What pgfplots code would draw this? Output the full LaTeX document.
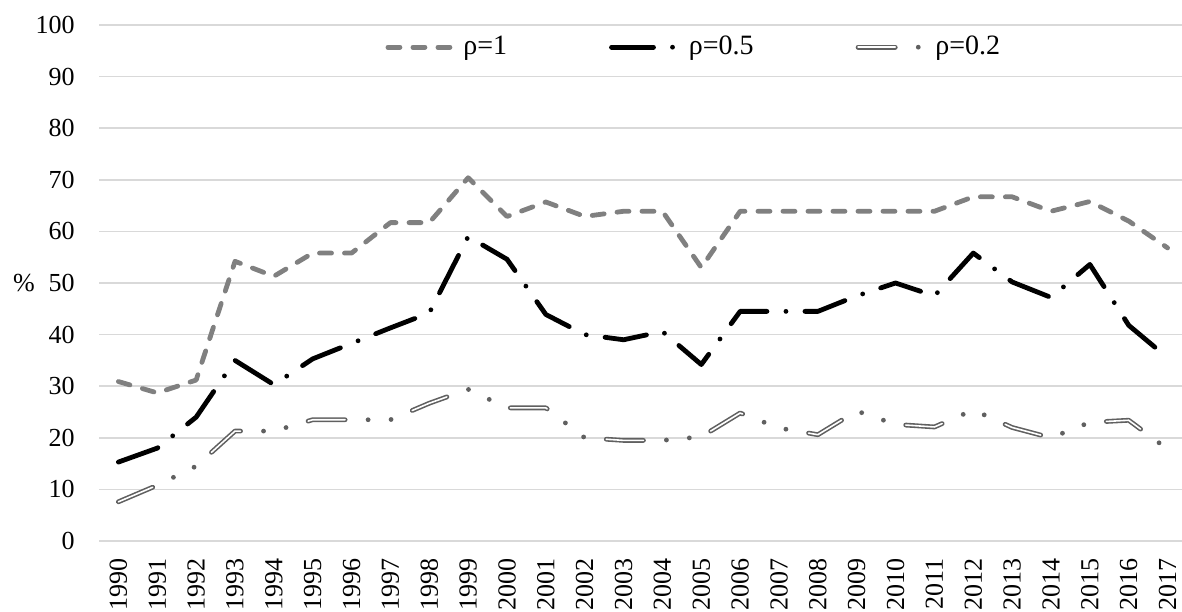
\documentclass[border=0pt]{standalone}
\usepackage{fontspec}
\setmainfont{Liberation Serif}
\usepackage{pgfplots}
\pgfplotsset{compat=1.18}
\definecolor{rhoone}{RGB}{128,128,128}
\definecolor{rhotwo}{RGB}{96,96,96}
\definecolor{gridc}{RGB}{217,217,217}

% 1 px of the reference = 0.5pt
\pgfplotstableread{
yr  r1    r05   r02
0   30.9  15.3  7.6
1   28.7  18.0  10.8
2   31.2  24.0  14.5
3   54.2  35.0  21.3
4   51.3  30.3  21.3
5   55.8  35.3  23.5
6   55.8  38.3  23.5
7   61.7  41.3  23.5
8   61.7  44.2  26.7
9   70.4  59.0  29.4
10  62.9  54.6  25.8
11  65.7  43.9  25.8
12  62.9  40.0  20.0
13  63.9  39.0  19.5
14  63.9  40.6  19.5
15  53.0  34.2  20.2
16  63.9  44.5  24.8
17  63.9  44.5  21.9
18  63.9  44.5  20.6
19  63.9  47.5  25.2
20  63.9  50.0  22.6
21  63.9  47.5  22.1
22  66.7  55.8  25.4
23  66.7  50.2  22.0
24  63.9  47.2  20.0
25  65.8  53.6  23.0
26  62.0  41.8  23.4
27  56.8  35.5  17.8
}\datatable

\tikzset{
  s1/.style={rhoone, line width=2.4pt, line cap=round, line join=round, dash pattern=on 6pt off 6.5pt},
  s05/.style={black, line width=2.4pt, line cap=round, line join=round, dash pattern=on 21pt off 9.5pt on 0pt off 9.5pt},
  s02/.style={rhotwo, line width=2.4pt, line cap=round, line join=round, dash pattern=on 18.6pt off 11.5pt on 0pt off 11.5pt on 0pt off 11.5pt},
  s02in/.style={white, line width=0.8pt, line cap=round, line join=round, dash pattern=on 18.6pt off 34.5pt},
}

\begin{document}
\begin{tikzpicture}[font=\fontsize{13pt}{15pt}\selectfont]
\begin{axis}[
  scale only axis,
  width=544pt, height=258pt,
  xmin=-0.5, xmax=27.5,
  ymin=0, ymax=100,
  xtick={0,...,27},
  xticklabels={1990,1991,1992,1993,1994,1995,1996,1997,1998,1999,2000,2001,2002,2003,2004,2005,2006,2007,2008,2009,2010,2011,2012,2013,2014,2015,2016,2017},
  ytick={0,10,...,100},
  major tick length=0pt,
  axis line style={draw=none},
  ymajorgrids,
  major grid style={gridc, line width=0.85pt},
  /pgf/number format/assume math mode=true,
  tick label style={font=\fontsize{13pt}{15pt}\selectfont},
  xticklabel style={rotate=90, anchor=east, inner xsep=8.5pt, inner ysep=0pt},
  yticklabel style={anchor=east, inner xsep=12pt},
  ylabel={\%},
  ylabel style={rotate=-90, at={(axis description cs:0,0.5)}, anchor=center, xshift=-37.5pt, font=\fontsize{13pt}{15pt}\selectfont},
  legend style={draw=none, fill=none, legend columns=-1,
    at={(axis description cs:0.263,0.957)}, anchor=west,
    inner sep=0pt, nodes={inner sep=0pt},
    font=\fontsize{14pt}{16pt}\selectfont,
    /tikz/every odd column/.append style={column sep=5.5pt},
    /tikz/every even column/.append style={column sep=51pt}},
]
\addplot[s1, legend image code/.code={\draw[s1] (0pt,0pt) -- (31pt,0pt);}]
  table[x=yr, y=r1] {\datatable};
\addlegendentry{ρ=1}
\addplot[s05, legend image code/.code={\draw[s05] (0pt,0pt) -- (32pt,0pt);}]
  table[x=yr, y=r05] {\datatable};
\addlegendentry{ρ=0.5}
\addplot[s02, legend image code/.code={\draw[s02] (0pt,0pt) -- (32pt,0pt); \draw[s02in] (0pt,0pt) -- (32pt,0pt);}]
  table[x=yr, y=r02] {\datatable};
\addlegendentry{ρ=0.2}
\addplot[s02in, forget plot] table[x=yr, y=r02] {\datatable};
\end{axis}
\pgfresetboundingbox
\useasboundingbox (-49.5pt,-35pt) rectangle (541.5pt,270.5pt);
\end{tikzpicture}
\end{document}
